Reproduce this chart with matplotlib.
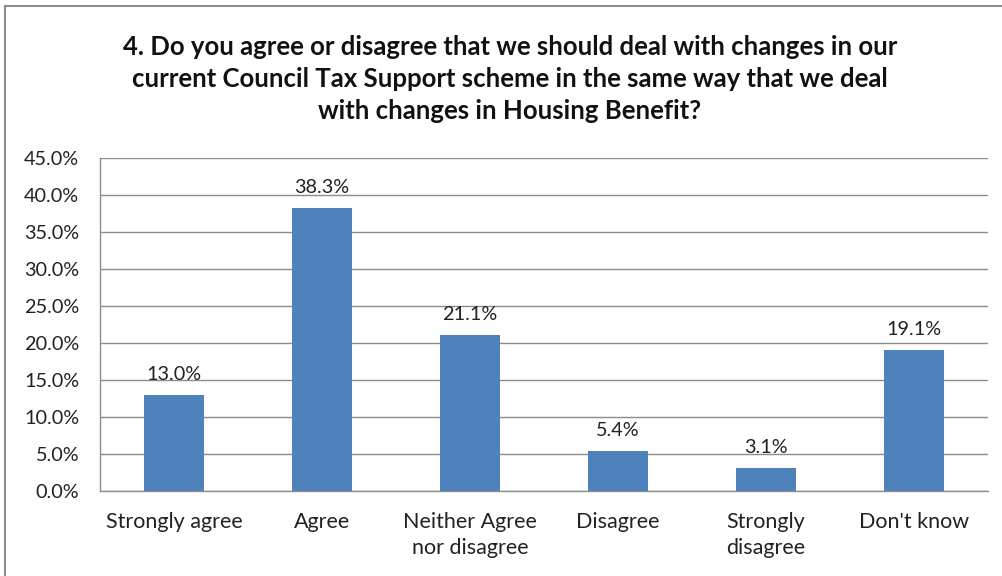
import matplotlib.pyplot as plt
from matplotlib.lines import Line2D
from matplotlib.ticker import FuncFormatter

# Survey data
categories = ["Strongly agree", "Agree", "Neither Agree\nnor disagree",
              "Disagree", "Strongly\ndisagree", "Don't know"]
values = [13.0, 38.3, 21.1, 5.4, 3.1, 19.1]
title = ("4. Do you agree or disagree that we should deal with changes in our\n"
         "current Council Tax Support scheme in the same way that we deal\n"
         "with changes in Housing Benefit?")

plt.rcParams["font.family"] = ["Lato", "DejaVu Sans"]

fig = plt.figure(figsize=(10.02, 5.76), dpi=100)
ax = fig.add_axes([100 / 1002, 1 - 491 / 576, 888 / 1002, 333 / 576])

x = range(len(categories))
bars = ax.bar(x, values, width=0.4, color="#4F81BD", zorder=3)

for b, v in zip(bars, values):
    ax.annotate(f"{v:.1f}%", (b.get_x() + b.get_width() / 2, v),
                xytext=(0, 8.5), textcoords="offset points",
                ha="center", va="bottom", fontsize=14.3, color="#222222")

ax.set_xlim(-0.5, len(categories) - 0.5)
ax.set_ylim(0, 45)
ax.set_yticks([i * 5 for i in range(10)])
ax.yaxis.set_major_formatter(FuncFormatter(lambda v, p: f"{v:.1f}%"))
ax.set_xticks(list(x))
ax.set_xticklabels(categories, fontsize=15.5, color="#222222", linespacing=1.4)
ax.tick_params(axis="y", labelsize=14.3, labelcolor="#222222", length=0, pad=15)
ax.tick_params(axis="x", length=0, pad=15)
for lab in ax.get_xticklabels():
    lab.set_verticalalignment("top")

ax.grid(axis="y", color="#8c8c8c", linewidth=1, zorder=0)
for s in ["top", "right"]:
    ax.spines[s].set_visible(False)
for s in ["left", "bottom"]:
    ax.spines[s].set_color("#8c8c8c")
    ax.spines[s].set_linewidth(1)

fig.text(510 / 1002, 1 - 79 / 576, title, ha="center", va="center",
         fontsize=18.5, fontweight="bold", linespacing=1.42, color="#111111")

# outer chart border (left and top visible)
fig.add_artist(Line2D([5 / 1002, 5 / 1002], [0, 1 - 6 / 576],
                      transform=fig.transFigure, color="#8c8c8c", lw=1.5))
fig.add_artist(Line2D([5 / 1002, 1], [1 - 6 / 576, 1 - 6 / 576],
                      transform=fig.transFigure, color="#8c8c8c", lw=1.5))

fig.savefig("out.png", dpi=100)
